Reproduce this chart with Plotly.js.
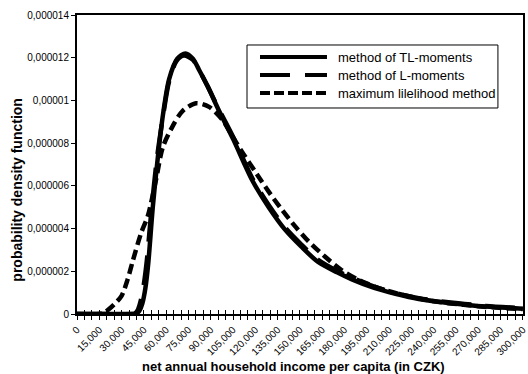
<!DOCTYPE html>
<html>
<head>
<meta charset="utf-8">
<script src="https://cdn.plot.ly/plotly-3.0.1.min.js"></script>
<style>html,body{margin:0;padding:0;background:#fff;}#chart{width:528px;height:374px;}</style>
</head>
<body>
<div id="chart"></div>
<script>
// ---- data ----
const seriesNames = ["method of TL-moments", "method of L-moments", "maximum lilelihood method"];

const tlIncome = [0, 20000, 38000, 40000, 42000, 44000, 46000, 48000, 51000, 54500, 58000, 62000, 67500, 73000, 78000, 82000, 88000, 95000, 105000, 118000, 129000, 140000, 151000, 162000, 175000, 185000, 200000, 215000, 230000, 250000, 275000, 300000];
const tlPdf = [0, 0, 0, 0.02e-6, 0.15e-6, 0.5e-6, 1.2e-6, 2.4e-6, 5.0e-6, 7.4e-6, 9.4e-6, 11.0e-6, 11.95e-6, 12.2e-6, 11.95e-6, 11.45e-6, 10.65e-6, 9.6e-6, 8.2e-6, 6.25e-6, 5.0e-6, 3.95e-6, 3.15e-6, 2.45e-6, 1.95e-6, 1.62e-6, 1.22e-6, 0.93e-6, 0.7e-6, 0.52e-6, 0.35e-6, 0.25e-6];

const lIncome = [0, 20000, 37000, 39000, 41000, 43000, 45000, 47000, 50000, 54000, 58000, 62000, 67000, 72000, 78000, 82000, 88000, 95000, 105000, 118000, 129000, 140000, 151000, 162000, 175000, 185000, 200000, 215000, 230000, 250000, 275000, 300000];
const lPdf = [0, 0, 0, 0.03e-6, 0.2e-6, 0.65e-6, 1.4e-6, 2.5e-6, 4.8e-6, 7.4e-6, 9.3e-6, 10.9e-6, 11.85e-6, 12.1e-6, 11.9e-6, 11.45e-6, 10.65e-6, 9.65e-6, 8.3e-6, 6.35e-6, 5.1e-6, 4.05e-6, 3.25e-6, 2.55e-6, 2.02e-6, 1.7e-6, 1.28e-6, 0.97e-6, 0.74e-6, 0.55e-6, 0.38e-6, 0.27e-6];

const mlIncome = [0, 15000, 18000, 21000, 25000, 30000, 34000, 37600, 43200, 47700, 53200, 57700, 64400, 71000, 80000, 88900, 97800, 104000, 111000, 120000, 129000, 138000, 147000, 156000, 167000, 178000, 190000, 205000, 220000, 240000, 260000, 280000, 300000];
const mlPdf = [0, 0, 0.05e-6, 0.2e-6, 0.45e-6, 0.85e-6, 1.6e-6, 2.5e-6, 3.8e-6, 4.6e-6, 6.3e-6, 7.8e-6, 8.8e-6, 9.5e-6, 9.87e-6, 9.7e-6, 9.1e-6, 8.4e-6, 7.6e-6, 6.66e-6, 5.73e-6, 4.87e-6, 4.09e-6, 3.39e-6, 2.68e-6, 2.06e-6, 1.58e-6, 1.17e-6, 0.88e-6, 0.6e-6, 0.43e-6, 0.31e-6, 0.23e-6];

const xTickVals = [0, 15000, 30000, 45000, 60000, 75000, 90000, 105000, 120000, 135000, 150000, 165000, 180000, 195000, 210000, 225000, 240000, 255000, 270000, 285000, 300000];
const xTickText = ["0", "15,000", "30,000", "45,000", "60,000", "75,000", "90,000", "105,000", "120,000", "135,000", "150,000", "165,000", "180,000", "195,000", "210,000", "225,000", "240,000", "255,000", "270,000", "285,000", "300,000"];
const yTickVals = [0, 0.000002, 0.000004, 0.000006, 0.000008, 0.00001, 0.000012, 0.000014];
const yTickText = ["0", "0,000002", "0,000004", "0,000006", "0,000008", "0,00001", "0,000012", "0,000014"];

const xTitle = "net annual household income per capita (in CZK)";
const yTitle = "probability density function";

// ---- styles ----
const FONT = "Arial, 'Liberation Sans', sans-serif";
const dashes = ["solid", "30px,14px", "10px,5px"];
const lineW = 4.5;

const traces = [
  {x: tlIncome, y: tlPdf, name: seriesNames[0]},
  {x: lIncome, y: lPdf, name: seriesNames[1]},
  {x: mlIncome, y: mlPdf, name: seriesNames[2]}
].map((t, i) => Object.assign(t, {
  type: "scatter", mode: "lines",
  line: {color: "#000", width: lineW, dash: dashes[i], shape: "spline", smoothing: 0.8},
  showlegend: false, hoverinfo: "skip", xaxis: "x", yaxis: "y"
}));

// custom legend (paper coordinates)
const legX0 = 0.3812, legX1 = 0.9438, legY0 = 0.689, legY1 = 0.8997;
const sampleX0 = 0.4103, sampleX1 = 0.5605, textX = 0.5807;
const rowY = [0.8595, 0.7993, 0.7391];

const shapes = [{
  type: "rect", xref: "paper", yref: "paper", x0: legX0, x1: legX1, y0: legY0, y1: legY1,
  line: {color: "#000", width: 1}, fillcolor: "#fff", layer: "above"
}];
const annotations = [];
seriesNames.forEach((n, i) => {
  shapes.push({type: "line", xref: "paper", yref: "paper", x0: sampleX0, x1: sampleX1, y0: rowY[i], y1: rowY[i],
    line: {color: "#000", width: 4, dash: i === 1 ? "30px,15px" : (i === 2 ? "10px,4px" : "solid")}, layer: "above"});
  annotations.push({xref: "paper", yref: "paper", x: textX, y: rowY[i], xanchor: "left", yanchor: "middle",
    text: n, showarrow: false, font: {family: FONT, size: 13, color: "#000"}});
});
// axis titles as annotations (positioned like the reference)
annotations.push({xref: "paper", yref: "paper", x: 0.486, y: -0.174, xanchor: "center", yanchor: "middle",
  text: "<b>" + xTitle + "</b>", showarrow: false, font: {family: FONT, size: 13, color: "#000"}});
annotations.push({xref: "paper", yref: "paper", x: -0.1351, y: 0.415, xanchor: "center", yanchor: "middle",
  textangle: -90, text: "<b>" + yTitle + "</b>", showarrow: false, font: {family: FONT, size: 14, color: "#000"}});

const layout = {
  width: 528, height: 374,
  margin: {l: 77, r: 5, t: 15, b: 60},
  paper_bgcolor: "#fff", plot_bgcolor: "#fff",
  font: {family: FONT, color: "#000"},
  showlegend: false,
  xaxis: {
    range: [0, 300150], tickmode: "array", tickvals: xTickVals, ticktext: xTickText,
    tickangle: -45, tickfont: {family: FONT, size: 10, color: "#000"},
    ticklabeloverflow: "allow",
    ticks: "outside", ticklen: 4, tickcolor: "#000", tickwidth: 1,
    minor: {dtick: 5000, ticks: "outside", ticklen: 4, tickcolor: "#000", tickwidth: 1, showgrid: false},
    showline: true, linecolor: "#000", linewidth: 2, mirror: true,
    showgrid: false, zeroline: false
  },
  xaxis2: {
    overlaying: "x", matches: "x", side: "bottom", anchor: "y",
    tickmode: "linear", tick0: 0, dtick: 5000, ticks: "inside", ticklen: 4, tickcolor: "#000", tickwidth: 1,
    showticklabels: false, showline: false, showgrid: false, zeroline: false
  },
  yaxis: {
    range: [0, 0.000014], tickmode: "array", tickvals: yTickVals, ticktext: yTickText,
    tickfont: {family: FONT, size: 10, color: "#000"},
    ticks: "outside", ticklen: 4, tickcolor: "#000", tickwidth: 1,
    showline: true, linecolor: "#000", linewidth: 2, mirror: true,
    showgrid: false, zeroline: false
  },
  shapes: shapes,
  annotations: annotations
};

// dummy trace to activate xaxis2 ticks
traces.push({type: "scatter", x: [0], y: [0], xaxis: "x2", yaxis: "y", mode: "none", showlegend: false, hoverinfo: "skip"});

Plotly.newPlot("chart", traces, layout, {staticPlot: true, displayModeBar: false});
</script>
</body>
</html>
